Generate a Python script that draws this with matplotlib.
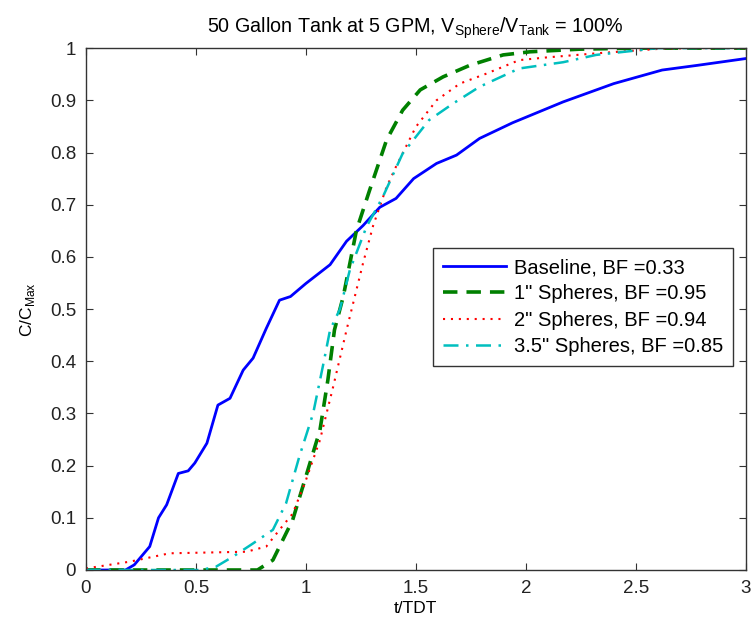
import matplotlib
matplotlib.use("Agg")
import matplotlib.pyplot as plt

plt.rcParams['font.family'] = ['Liberation Sans', 'DejaVu Sans']

base_x = [0, 0.18, 0.22, 0.29, 0.33, 0.367, 0.42, 0.465, 0.495, 0.55, 0.60, 0.655, 0.715, 0.76, 0.82,
          0.88, 0.93, 1.0, 1.11, 1.185, 1.26, 1.336, 1.41, 1.49, 1.594, 1.685, 1.79, 1.94, 2.17,
          2.40, 2.62, 2.78, 3.0]
base_y = [0, 0, 0.01, 0.045, 0.10, 0.125, 0.185, 0.19, 0.205, 0.243, 0.316, 0.329, 0.383, 0.406, 0.463,
          0.517, 0.524, 0.549, 0.585, 0.630, 0.660, 0.695, 0.712, 0.750, 0.779, 0.795, 0.827, 0.857, 0.897,
          0.932, 0.958, 0.967, 0.98]

s1_x = [0, 0.78, 0.85, 0.94, 1.0, 1.064, 1.10, 1.13, 1.17, 1.23, 1.29, 1.367, 1.44, 1.52, 1.624,
        1.745, 1.897, 2.02, 2.245, 2.5, 3.0]
s1_y = [0, 0, 0.019, 0.096, 0.179, 0.268, 0.364, 0.46, 0.524, 0.651, 0.728, 0.824, 0.881, 0.92, 0.945,
        0.967, 0.987, 0.993, 0.998, 1.0, 1.0]

s2_x = [0, 0.2, 0.38, 0.73, 0.82, 0.88, 0.94, 1.0, 1.064, 1.124, 1.185, 1.26, 1.306, 1.367, 1.41,
        1.50, 1.594, 1.70, 1.82, 1.97, 2.09, 2.32, 2.62, 2.8, 3.0]
s2_y = [0.003, 0.016, 0.032, 0.035, 0.045, 0.077, 0.108, 0.172, 0.249, 0.351, 0.46, 0.588, 0.660, 0.734,
        0.773, 0.849, 0.90, 0.932, 0.951, 0.977, 0.982, 0.99, 0.999, 1.0, 1.0]

s3_x = [0, 0.52, 0.59, 0.67, 0.76, 0.85, 0.91, 0.97, 1.033, 1.08, 1.11, 1.155, 1.2, 1.276, 1.35,
        1.44, 1.56, 1.67, 1.79, 1.97, 2.17, 2.32, 2.47, 2.6, 3.0]
s3_y = [0, 0, 0.006, 0.026, 0.051, 0.077, 0.128, 0.217, 0.30, 0.396, 0.46, 0.500, 0.575, 0.658, 0.715,
        0.798, 0.862, 0.894, 0.926, 0.961, 0.973, 0.987, 0.994, 1.0, 1.0]

labels = ['Baseline, BF =0.33', '1" Spheres, BF =0.95', '2" Spheres, BF =0.94', '3.5" Spheres, BF =0.85']

fig = plt.figure(figsize=(7.54, 6.25), dpi=100)
ax = fig.add_axes([0.114, 0.088, 0.875, 0.835])

ax.plot(base_x, base_y, color='#0000ff', lw=2.0, ls='-', label=labels[0])
ax.plot(s1_x, s1_y, color='#008000', lw=2.6, ls=(0, (4, 2.5)), label=labels[1])
ax.plot(s2_x, s2_y, color='#ff0000', lw=1.5, ls=(0, (1, 2.8)), label=labels[2])
ax.plot(s3_x, s3_y, color='#00bfbf', lw=1.8, ls=(0, (6, 3, 1, 3)), label=labels[3])

ax.set_xlim(0, 3)
ax.set_ylim(0, 1)
ax.set_xticks([0, 0.5, 1, 1.5, 2, 2.5, 3])
ax.set_xticklabels(['0', '0.5', '1', '1.5', '2', '2.5', '3'])
ax.set_yticks([i / 10 for i in range(11)])
ax.set_yticklabels(['0', '0.1', '0.2', '0.3', '0.4', '0.5', '0.6', '0.7', '0.8', '0.9', '1'])
ax.tick_params(direction='in', length=5, labelsize=13.5, top=True, right=True, pad=7,
               color='#333333', labelcolor='#222222')
for sp in ax.spines.values():
    sp.set_linewidth(1.0)
    sp.set_color('#333333')

ax.set_xlabel('t/TDT', fontsize=12.5, labelpad=3)
ax.set_ylabel(r'C/C$_{\mathregular{Max}}$', fontsize=12.5, labelpad=9)
ax.set_title(r'50 Gallon Tank at 5 GPM, V$_{\mathregular{Sphere}}$/V$_{\mathregular{Tank}}$ = 100%',
             fontsize=14.2, pad=11)

leg = ax.legend(loc='upper left', bbox_to_anchor=(0.526, 0.617), fontsize=14.5, frameon=True,
                fancybox=False, edgecolor='#333333', handlelength=3.15, handletextpad=0.35,
                borderpad=0.5, labelspacing=0.36, borderaxespad=0, framealpha=1)
leg.get_frame().set_linewidth(1.0)

fig.savefig('out.png', dpi=100)
